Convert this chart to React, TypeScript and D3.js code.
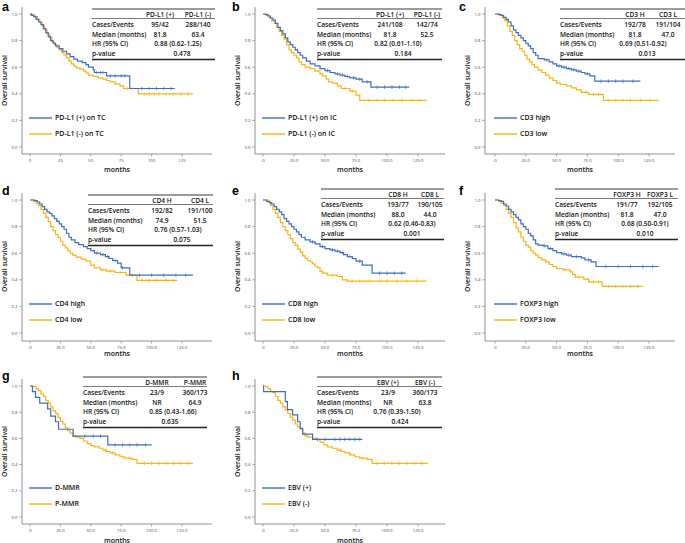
import React from "react";
import * as d3 from "d3";

// Kaplan-Meier curves: [month, survival after the step]
// the last point is where the curve stops
const aBlue = [[0,1],[1,0.99],[3,0.98],[5,0.96],[7,0.94],[9,0.92],[11,0.89],[13,0.86],[15,0.83],[17,0.8],[19,0.78],[21,0.76],[24,0.74],[27,0.72],[30,0.7],[33,0.68],[36,0.66],[39,0.645],[43,0.635],[46,0.62],[48,0.6],[52,0.58],[53,0.56],[63,0.535],[82,0.44],[119,0.44]];
const aOrange = [[0,1],[2.5,0.99],[4,0.98],[6,0.96],[8,0.94],[10,0.91],[12,0.88],[14,0.85],[16,0.82],[18,0.79],[20,0.77],[22,0.75],[24,0.73],[26,0.71],[28,0.69],[30,0.67],[32,0.645],[34,0.625],[36,0.61],[38,0.595],[41,0.585],[44,0.57],[46,0.555],[48,0.54],[52,0.53],[56,0.52],[60,0.51],[63,0.5],[66,0.49],[70,0.475],[74,0.46],[77,0.44],[89,0.4],[134,0.4]];
const bBlue = [[0,1],[2,0.995],[4,0.985],[6,0.97],[8,0.955],[10,0.93],[12,0.9],[14,0.875],[16,0.85],[18,0.82],[20,0.79],[22,0.77],[24,0.75],[26,0.73],[28,0.71],[30,0.69],[32,0.67],[35,0.645],[38,0.625],[42,0.61],[46,0.59],[50,0.575],[54,0.56],[58,0.55],[62,0.54],[66,0.53],[70,0.52],[75,0.51],[80,0.49],[87,0.45],[118,0.45]];
const bOrange = [[0,1],[3,0.99],[5,0.97],[7,0.95],[9,0.93],[11,0.9],[13,0.87],[15,0.84],[17,0.81],[19,0.77],[21,0.73],[23,0.71],[25,0.69],[27,0.67],[29,0.64],[31,0.62],[34,0.6],[38,0.59],[42,0.57],[46,0.55],[48,0.535],[51,0.51],[53,0.49],[56,0.48],[60,0.46],[63,0.44],[70,0.42],[75,0.39],[78,0.35],[132,0.35]];
const cBlue = [[0,1],[3,0.995],[5,0.99],[7,0.975],[9,0.96],[11,0.94],[13,0.91],[15,0.88],[17,0.86],[19,0.84],[21,0.82],[23,0.8],[25,0.78],[27,0.76],[29,0.74],[31,0.71],[33,0.69],[35,0.665],[40,0.655],[44,0.64],[47,0.625],[50,0.61],[54,0.6],[58,0.59],[62,0.58],[66,0.57],[70,0.56],[73,0.55],[77,0.535],[81,0.495],[118,0.495]];
const cOrange = [[0,1],[4,0.99],[6,0.97],[8,0.95],[10,0.91],[12,0.87],[14,0.84],[16,0.8],[18,0.77],[20,0.74],[22,0.72],[24,0.69],[26,0.66],[28,0.64],[30,0.62],[32,0.6],[35,0.58],[38,0.56],[41,0.54],[44,0.52],[47,0.5],[50,0.48],[53,0.47],[58,0.46],[62,0.445],[66,0.43],[70,0.41],[76,0.395],[88,0.35],[133,0.35]];
const dBlue = [[0,1],[4,0.995],[6,0.985],[8,0.97],[10,0.95],[12,0.93],[14,0.91],[16,0.9],[18,0.88],[20,0.86],[22,0.84],[24,0.82],[26,0.8],[28,0.78],[30,0.75],[32,0.72],[34,0.7],[37,0.68],[40,0.665],[44,0.65],[47,0.635],[50,0.62],[53,0.6],[58,0.59],[62,0.575],[65,0.56],[68,0.545],[72,0.525],[75,0.49],[82,0.435],[134,0.435]];
const dOrange = [[0,1],[3,0.99],[5,0.975],[7,0.96],[9,0.93],[11,0.9],[13,0.87],[15,0.84],[17,0.8],[19,0.77],[21,0.74],[23,0.72],[25,0.69],[27,0.66],[29,0.64],[31,0.62],[33,0.6],[35,0.585],[38,0.57],[42,0.555],[46,0.54],[50,0.51],[53,0.49],[58,0.475],[63,0.465],[70,0.455],[79,0.435],[88,0.395],[121,0.395]];
const eBlue = [[0,1],[3,0.99],[5,0.98],[7,0.97],[9,0.95],[11,0.93],[13,0.91],[15,0.89],[17,0.86],[19,0.84],[21,0.82],[23,0.8],[25,0.78],[27,0.76],[29,0.74],[31,0.72],[34,0.7],[38,0.685],[42,0.67],[46,0.65],[50,0.635],[54,0.625],[58,0.615],[62,0.605],[65,0.59],[68,0.575],[72,0.56],[75,0.54],[80,0.51],[88,0.45],[115,0.45]];
const eOrange = [[0,1],[4,0.99],[6,0.96],[8,0.93],[10,0.9],[12,0.87],[14,0.83],[16,0.8],[18,0.77],[20,0.74],[22,0.71],[24,0.68],[26,0.66],[28,0.63],[30,0.61],[32,0.58],[34,0.56],[36,0.545],[38,0.535],[40,0.52],[42,0.5],[44,0.49],[46,0.465],[48,0.45],[52,0.435],[60,0.425],[64,0.4],[68,0.39],[132,0.39]];
const fBlue = [[0,1],[3,0.995],[5,0.99],[7,0.97],[9,0.955],[11,0.93],[13,0.91],[15,0.89],[17,0.87],[19,0.85],[21,0.82],[23,0.8],[25,0.78],[27,0.75],[29,0.73],[31,0.7],[33,0.67],[35,0.66],[39,0.655],[43,0.635],[47,0.62],[50,0.605],[54,0.595],[58,0.585],[62,0.575],[70,0.565],[73,0.55],[78,0.535],[82,0.5],[133,0.5]];
const fOrange = [[0,1],[3,0.99],[5,0.975],[7,0.96],[9,0.93],[11,0.9],[13,0.87],[15,0.83],[17,0.79],[19,0.76],[21,0.72],[23,0.69],[25,0.66],[27,0.645],[29,0.62],[31,0.6],[33,0.585],[35,0.565],[38,0.55],[41,0.535],[44,0.515],[47,0.5],[50,0.485],[55,0.475],[61,0.46],[63,0.44],[65,0.42],[72,0.405],[76,0.385],[87,0.35],[120,0.35]];
const gBlue = [[0,1],[2,0.957],[4.5,0.913],[8,0.87],[14.5,0.826],[17,0.77],[21,0.727],[23.5,0.67],[35.5,0.617],[64,0.55],[100,0.55]];
const gOrange = [[0,1],[3,0.995],[5,0.98],[7,0.965],[9,0.94],[11,0.92],[13,0.89],[15,0.87],[17,0.84],[19,0.81],[21,0.79],[23,0.76],[25,0.73],[27,0.71],[29,0.68],[31,0.66],[33,0.64],[35,0.62],[38,0.61],[41,0.6],[44,0.58],[47,0.56],[50,0.545],[53,0.535],[57,0.525],[60,0.51],[63,0.5],[66,0.49],[70,0.475],[74,0.46],[78,0.45],[84,0.44],[88,0.41],[134,0.41]];
const hBlue = [[0,1],[0.5,0.957],[18,0.88],[19.7,0.82],[23.8,0.78],[27.9,0.727],[30,0.676],[32,0.633],[40,0.592],[80,0.592]];
const hOrange = [[0,1],[2,0.995],[4,0.98],[6,0.96],[8,0.95],[10,0.92],[12,0.89],[14,0.87],[16,0.84],[18,0.815],[20,0.79],[22,0.76],[24,0.74],[26,0.71],[28,0.69],[30,0.67],[32,0.64],[34,0.62],[36,0.61],[40,0.6],[43,0.59],[46,0.57],[49,0.55],[52,0.535],[56,0.525],[60,0.51],[63,0.5],[66,0.49],[70,0.475],[74,0.46],[78,0.45],[84,0.44],[88,0.41],[133,0.41]];

// censored observations (months)
const aBlueCens = [55, 58, 60, 66, 70, 75, 78, 92, 98, 104, 110, 116];
const aOrangeCens = [80, 84, 94, 98, 102, 106, 112, 118, 124, 130];
const bBlueCens = [52, 60, 64, 68, 73, 78, 84, 92, 98, 104, 110, 115];
const bOrangeCens = [66, 72, 85, 92, 98, 105, 112, 120, 126];
const cBlueCens = [42, 52, 56, 60, 64, 68, 75, 86, 92, 98, 104, 112];
const cOrangeCens = [74, 80, 84, 92, 98, 104, 110, 118, 126];
const dBlueCens = [55, 60, 64, 70, 76, 90, 100, 110, 120, 128];
const dOrangeCens = [60, 66, 74, 84, 92, 98, 104, 112, 118];
const eBlueCens = [40, 48, 56, 60, 64, 70, 78, 94, 100, 106, 112];
const eOrangeCens = [56, 72, 78, 86, 94, 100, 108, 116, 124];
const fBlueCens = [40, 45, 56, 60, 66, 76, 90, 100, 110, 120, 128];
const fOrangeCens = [57, 68, 80, 84, 92, 98, 104, 110, 116];
const gBlueCens = [45, 52, 58, 70, 76, 82, 88, 95];
const gOrangeCens = [62, 68, 76, 82, 94, 100, 106, 112, 118, 124, 130];
const hBlueCens = [44, 50, 58, 62, 66, 70, 74, 78];
const hOrangeCens = [62, 70, 80, 92, 98, 104, 110, 116, 122, 128];

const blueCurves = [aBlue, bBlue, cBlue, dBlue, eBlue, fBlue, gBlue, hBlue];
const orangeCurves = [aOrange, bOrange, cOrange, dOrange, eOrange, fOrange, gOrange, hOrange];
const blueCens = [aBlueCens, bBlueCens, cBlueCens, dBlueCens, eBlueCens, fBlueCens, gBlueCens, hBlueCens];
const orangeCens = [aOrangeCens, bOrangeCens, cOrangeCens, dOrangeCens, eOrangeCens, fOrangeCens, gOrangeCens, hOrangeCens];

const panelLetters = ["a", "b", "c", "d", "e", "f", "g", "h"];
const legendLabels = [
  ["PD-L1 (+) on TC", "PD-L1 (-) on TC"],
  ["PD-L1 (+) on IC", "PD-L1 (-) on IC"],
  ["CD3 high", "CD3 low"],
  ["CD4 high", "CD4 low"],
  ["CD8 high", "CD8 low"],
  ["FOXP3 high", "FOXP3 low"],
  ["D-MMR", "P-MMR"],
  ["EBV (+)", "EBV (-)"],
];
const groupHeaders = [
  ["PD-L1 (+)", "PD-L1 (-)"], ["PD-L1 (+)", "PD-L1 (-)"], ["CD3 H", "CD3 L"], ["CD4 H", "CD4 L"],
  ["CD8 H", "CD8 L"], ["FOXP3 H", "FOXP3 L"], ["D-MMR", "P-MMR"], ["EBV (+)", "EBV (-)"],
];
const casesEvents = [
  ["95/42", "288/140"], ["241/108", "142/74"], ["192/78", "191/104"], ["192/82", "191/100"],
  ["193/77", "190/105"], ["191/77", "192/105"], ["23/9", "360/173"], ["23/9", "360/173"],
];
const medians = [
  ["81.8", "63.4"], ["81.8", "52.5"], ["81.8", "47.0"], ["74.9", "51.5"],
  ["88.0", "44.0"], ["81.8", "47.0"], ["NR", "64.9"], ["NR", "63.8"],
];
const hazardRatios = [
  "0.88 (0.62-1.25)", "0.82 (0.61-1.10)", "0.69 (0.51-0.92)", "0.76 (0.57-1.03)",
  "0.62 (0.46-0.83)", "0.68 (0.50-0.91)", "0.85 (0.43-1.66)", "0.76 (0.39-1.50)",
];
const pValues = ["0.478", "0.184", "0.013", "0.075", "0.001", "0.010", "0.635", "0.424"];
const rowLabels = ["Cases/Events", "Median (months)", "HR (95% CI)", "p-value"];
const xTicks = [0, 25, 50, 75, 100, 125];
const yTicks = [0, 0.2, 0.4, 0.6, 0.8, 1.0];

const BLUE = "#3d6ec6";
const ORANGE = "#fdb30f";
const FONT = "'Open Sans', sans-serif";

// grid of the figure
const cols = [
  { axisX: 22, x0: 30, x125: 182 },
  { axisX: 255, x0: 263, x125: 418 },
  { axisX: 485, x0: 495, x125: 649 },
];
const rows = [
  { y1: 14, y0: 147, axisY: 154, monthsDy: 18 },
  { y1: 200, y0: 333, axisY: 341, monthsDy: 15 },
  { y1: 386, y0: 517, axisY: 524, monthsDy: 18.5 },
];
const layout = [
  { col: 0, row: 0, ly: 11, tL: 92, tR: 215, tT: 9, c1: 68, c2: 106, cm: 86, cp: 90 },
  { col: 1, row: 0, ly: 11, tL: 317, tR: 442, tT: 9, c1: 73, c2: 110, cm: 81, cp: 86 },
  { col: 2, row: 0, ly: 11, tL: 560, tR: 685, tT: 9, c1: 75, c2: 108, cm: 83, cp: 87 },
  { col: 0, row: 1, ly: 195, tL: 88, tR: 213, tT: 195, c1: 74, c2: 112, cm: 90, cp: 94 },
  { col: 1, row: 1, ly: 195, tL: 321, tR: 444, tT: 189, c1: 77, c2: 109, cm: 91, cp: 91 },
  { col: 2, row: 1, ly: 195, tL: 555, tR: 678, tT: 189, c1: 72, c2: 105, cm: 90, cp: 90 },
  { col: 0, row: 2, ly: 380, tL: 83, tR: 207, tT: 377, c1: 74, c2: 112, cm: 90, cp: 87 },
  { col: 1, row: 2, ly: 380, tL: 317, tR: 442, tT: 377, c1: 71, c2: 108, cm: 80, cp: 83 },
];
const letterX = [2, 232, 459, 2, 232, 459, 2, 232];

function stepAt(pts, t) {
  let v = 1;
  for (const p of pts) if (p[0] <= t) v = p[1];
  return v;
}

function Panel({ i }) {
  const L = layout[i];
  const col = cols[L.col];
  const row = rows[L.row];
  const x = d3.scaleLinear().domain([0, 125]).range([col.x0, col.x125]);
  const y = d3.scaleLinear().domain([0, 1]).range([row.y0, row.y1]);
  const line = d3.line().x((d) => x(d[0])).y((d) => y(d[1])).curve(d3.curveStepAfter);
  const xFmt = i === 0 ? d3.format("d") : (v) => (v === 0 ? ".0" : d3.format(".1f")(v));
  const yFmt = d3.format(".1f");
  const axisRight = col.axisX + 190;

  const curves = [
    { pts: orangeCurves[i], cens: orangeCens[i], color: ORANGE },
    { pts: blueCurves[i], cens: blueCens[i], color: BLUE },
  ];

  const T = L.tT;
  const textStyle = { fontFamily: FONT, fontSize: 6.6, fontWeight: 600, fill: "#111" };

  return (
    <g>
      <text x={letterX[i]} y={L.ly} fontFamily="'Liberation Sans', Arial, sans-serif" fontWeight="bold" fontSize={12.5} fill="#000">
        {panelLetters[i]}
      </text>

      {/* axes */}
      <line x1={col.axisX} x2={col.axisX} y1={y(1) - 7} y2={row.axisY} stroke="#777" strokeWidth={0.8} />
      <line x1={col.axisX} x2={axisRight} y1={row.axisY} y2={row.axisY} stroke="#777" strokeWidth={0.8} />
      {yTicks.map((t) => (
        <g key={"y" + t}>
          <line x1={col.axisX - 3} x2={col.axisX} y1={y(t)} y2={y(t)} stroke="#777" strokeWidth={0.6} />
          <text x={col.axisX - 4.5} y={y(t) + 1.5} textAnchor="end" fontFamily={FONT} fontSize={4.3} fill="#444">
            {yFmt(t)}
          </text>
        </g>
      ))}
      {xTicks.map((t) => (
        <g key={"x" + t}>
          <line x1={x(t)} x2={x(t)} y1={row.axisY} y2={row.axisY + 2.5} stroke="#777" strokeWidth={0.6} />
          <text x={x(t)} y={row.axisY + 7.5} textAnchor="middle" fontFamily={FONT} fontSize={4.3} fill="#444">
            {xFmt(t)}
          </text>
        </g>
      ))}
      <text x={(col.axisX + axisRight) / 2} y={row.axisY + row.monthsDy} textAnchor="middle" {...textStyle} fontSize={7}>
        months
      </text>
      <text
        transform={`translate(${col.axisX - 15},${(y(0) + y(1)) / 2}) rotate(-90)`}
        textAnchor="middle"
        {...textStyle}
        fontSize={6.8}
      >
        Overall survival
      </text>

      {/* survival curves */}
      {curves.map((c, k) => (
        <g key={k}>
          <path d={line(c.pts)} fill="none" stroke={c.color} strokeWidth={1.2} />
          {c.cens.map((t, j) => (
            <line key={j} x1={x(t)} x2={x(t)} y1={y(stepAt(c.pts, t)) - 1.8} y2={y(stepAt(c.pts, t)) + 1.8} stroke={c.color} strokeWidth={0.7} />
          ))}
        </g>
      ))}

      {/* legend */}
      {[BLUE, ORANGE].map((color, k) => {
        const ly = row.y0 - (k === 0 ? 29 : 13);
        return (
          <g key={"lg" + k}>
            <line x1={col.x0 - 1} x2={col.x0 + 22} y1={ly} y2={ly} stroke={color} strokeWidth={1.4} />
            <text x={col.x0 + 25} y={ly + 2.3} {...textStyle} fontSize={7}>
              {legendLabels[i][k]}
            </text>
          </g>
        );
      })}

      {/* statistics table */}
      <line x1={L.tL} x2={L.tR} y1={T} y2={T} stroke="#222" strokeWidth={0.9} />
      <line x1={L.tL} x2={L.tR} y1={T + 9.5} y2={T + 9.5} stroke="#222" strokeWidth={0.6} />
      <line x1={L.tL} x2={L.tR} y1={T + 50.5} y2={T + 50.5} stroke="#222" strokeWidth={1.5} />
      {groupHeaders[i].map((h, k) => (
        <text key={"h" + k} x={L.tL + (k === 0 ? L.c1 : L.c2)} y={T + 7.8} textAnchor="middle" {...textStyle}>
          {h}
        </text>
      ))}
      {rowLabels.map((r, k) => (
        <text key={"r" + k} x={L.tL} y={T + 18 + k * 9.7} {...textStyle}>
          {r}
        </text>
      ))}
      {casesEvents[i].map((v, k) => (
        <text key={"c" + k} x={L.tL + (k === 0 ? L.c1 : L.c2)} y={T + 18} textAnchor="middle" {...textStyle}>
          {v}
        </text>
      ))}
      {medians[i].map((v, k) => (
        <text key={"m" + k} x={L.tL + (k === 0 ? L.c1 : L.c2)} y={T + 27.7} textAnchor="middle" {...textStyle}>
          {v}
        </text>
      ))}
      <text x={L.tL + L.cm} y={T + 37.4} textAnchor="middle" {...textStyle}>
        {hazardRatios[i]}
      </text>
      <text x={L.tL + L.cp} y={T + 47.1} textAnchor="middle" {...textStyle}>
        {pValues[i]}
      </text>
    </g>
  );
}

export default function App() {
  return (
    <svg
      width={685}
      height={543}
      style={{ position: "absolute", left: 0, top: 0, background: "#fff" }}
    >
      <rect width={685} height={543} fill="#fff" />
      {panelLetters.map((_, i) => (
        <Panel key={i} i={i} />
      ))}
    </svg>
  );
}
